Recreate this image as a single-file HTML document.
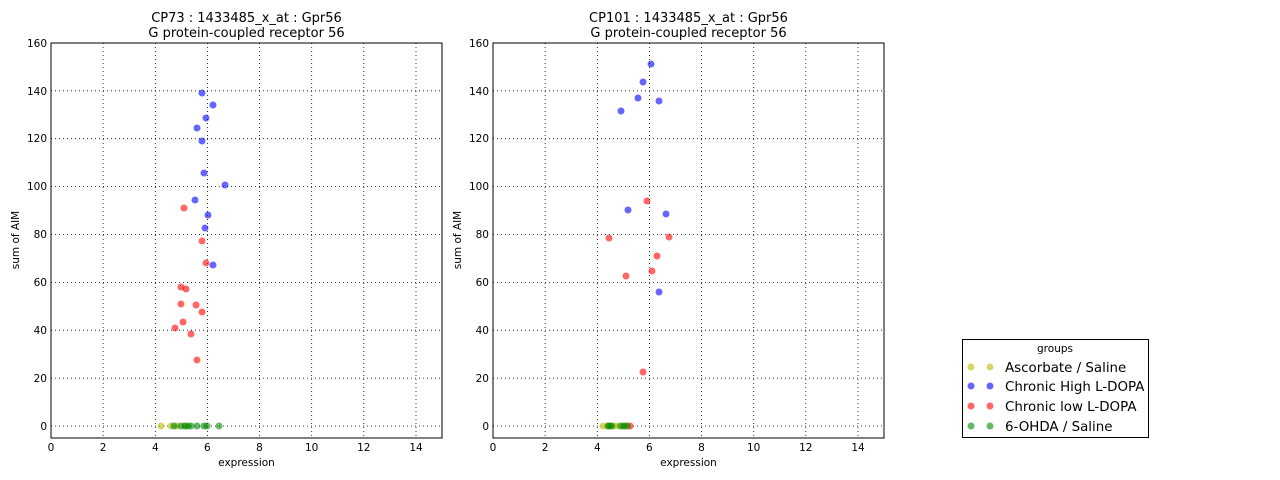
<!DOCTYPE html>
<html><head><meta charset="utf-8"><style>
body{margin:0;background:#fff}
svg{display:block;font-family:"DejaVu Sans","Liberation Sans",sans-serif}
.g{stroke:#000;stroke-width:0.8;stroke-dasharray:1,3}
.t{font-size:10.5px}
.tt{font-size:13px}
</style></head><body>
<svg width="1280" height="480" xmlns="http://www.w3.org/2000/svg">
<defs>
<g id="ax">
<rect x="51" y="43" width="391" height="395" fill="#fff" stroke="none"/>
<g class="g">
<line x1="103.1" y1="43" x2="103.1" y2="438"/><line x1="155.3" y1="43" x2="155.3" y2="438"/><line x1="207.4" y1="43" x2="207.4" y2="438"/><line x1="259.5" y1="43" x2="259.5" y2="438"/><line x1="311.7" y1="43" x2="311.7" y2="438"/><line x1="363.8" y1="43" x2="363.8" y2="438"/><line x1="416" y1="43" x2="416" y2="438"/>
<line x1="51" y1="426" x2="442" y2="426"/><line x1="51" y1="378.1" x2="442" y2="378.1"/><line x1="51" y1="330.2" x2="442" y2="330.2"/><line x1="51" y1="282.4" x2="442" y2="282.4"/><line x1="51" y1="234.5" x2="442" y2="234.5"/><line x1="51" y1="186.6" x2="442" y2="186.6"/><line x1="51" y1="138.7" x2="442" y2="138.7"/><line x1="51" y1="90.8" x2="442" y2="90.8"/>
</g>
<rect x="51" y="43" width="391" height="395" fill="none" stroke="#000" stroke-width="1"/>
<g class="t" text-anchor="middle">
<text x="51" y="451">0</text><text x="103.1" y="451">2</text><text x="155.3" y="451">4</text><text x="207.4" y="451">6</text><text x="259.5" y="451">8</text><text x="311.7" y="451">10</text><text x="363.8" y="451">12</text><text x="416" y="451">14</text>
<text x="246.5" y="466">expression</text>
</g>
<g class="t" text-anchor="end">
<text x="47" y="430">0</text><text x="47" y="382">20</text><text x="47" y="334">40</text><text x="47" y="286">60</text><text x="47" y="238">80</text><text x="47" y="190">100</text><text x="47" y="142">120</text><text x="47" y="95">140</text><text x="47" y="47">160</text>
</g>
<text class="t" transform="translate(19,240) rotate(-90)" text-anchor="middle">sum of AIM</text>
</g>
</defs>
<use href="#ax"/>
<use href="#ax" transform="translate(442,0)"/>
<g class="tt" text-anchor="middle">
<text x="246.5" y="22">CP73 : 1433485_x_at : Gpr56</text>
<text x="246.5" y="37">G protein-coupled receptor 56</text>
<text x="688.5" y="22">CP101 : 1433485_x_at : Gpr56</text>
<text x="688.5" y="37">G protein-coupled receptor 56</text>
</g>
<g fill-opacity="0.6" stroke="none">
<g fill="#00f">
<circle cx="202" cy="93" r="3.5"/><circle cx="213" cy="105" r="3.5"/><circle cx="206" cy="118" r="3.5"/><circle cx="197" cy="128" r="3.5"/><circle cx="202" cy="141" r="3.5"/><circle cx="204" cy="173" r="3.5"/><circle cx="225" cy="185" r="3.5"/><circle cx="195" cy="200" r="3.5"/><circle cx="208" cy="215" r="3.5"/><circle cx="205" cy="228" r="3.5"/><circle cx="213" cy="265" r="3.5"/>
<circle cx="651" cy="64" r="3.5"/><circle cx="643" cy="82" r="3.5"/><circle cx="638" cy="98" r="3.5"/><circle cx="659" cy="101" r="3.5"/><circle cx="621" cy="111" r="3.5"/><circle cx="628" cy="210" r="3.5"/><circle cx="666" cy="214" r="3.5"/><circle cx="659" cy="292" r="3.5"/>
</g>
<g fill="#f00">
<circle cx="184" cy="208" r="3.5"/><circle cx="202" cy="241" r="3.5"/><circle cx="206" cy="263" r="3.5"/><circle cx="181" cy="287" r="3.5"/><circle cx="186" cy="289" r="3.5"/><circle cx="181" cy="304" r="3.5"/><circle cx="196" cy="305" r="3.5"/><circle cx="202" cy="312" r="3.5"/><circle cx="183" cy="322" r="3.5"/><circle cx="175" cy="328" r="3.5"/><circle cx="191" cy="334" r="3.5"/><circle cx="197" cy="360" r="3.5"/>
<circle cx="647" cy="201" r="3.5"/><circle cx="609" cy="238" r="3.5"/><circle cx="669" cy="237" r="3.5"/><circle cx="657" cy="256" r="3.5"/><circle cx="652" cy="271" r="3.5"/><circle cx="626" cy="276" r="3.5"/><circle cx="643" cy="372" r="3.5"/>
<circle cx="630" cy="426" r="3.5"/>
</g>
<g fill="#bb0">
<circle cx="161" cy="426" r="3.5"/><circle cx="171" cy="426" r="3.5"/><circle cx="177" cy="426" r="3.5"/><circle cx="185" cy="426" r="3.5"/>
<circle cx="603" cy="426" r="3.5"/><circle cx="608" cy="426" r="3.5"/><circle cx="615" cy="426" r="3.5"/><circle cx="619" cy="426" r="3.5"/><circle cx="625" cy="426" r="3.5"/>
</g>
<g fill="#080">
<circle cx="174" cy="426" r="3.5"/><circle cx="181" cy="426" r="3.5"/><circle cx="185" cy="426" r="3.5"/><circle cx="188" cy="426" r="3.5"/><circle cx="191" cy="426" r="3.5"/><circle cx="197" cy="426" r="3.5"/><circle cx="204" cy="426" r="3.5"/><circle cx="207" cy="426" r="3.5"/><circle cx="219" cy="426" r="3.5"/>
<circle cx="608" cy="426" r="3.5"/><circle cx="610" cy="426" r="3.5"/><circle cx="612" cy="426" r="3.5"/><circle cx="621" cy="426" r="3.5"/><circle cx="624" cy="426" r="3.5"/><circle cx="627" cy="426" r="3.5"/>
</g>
</g>
<rect x="962.5" y="339.5" width="186" height="98" fill="#fff" stroke="#000"/>
<text x="1055" y="352" class="t" text-anchor="middle">groups</text>
<g fill-opacity="0.6">
<circle cx="971" cy="367" r="3.5" fill="#bb0"/><circle cx="990" cy="367" r="3.5" fill="#bb0"/>
<circle cx="971" cy="386" r="3.5" fill="#00f"/><circle cx="990" cy="386" r="3.5" fill="#00f"/>
<circle cx="971" cy="406" r="3.5" fill="#f00"/><circle cx="990" cy="406" r="3.5" fill="#f00"/>
<circle cx="971" cy="426" r="3.5" fill="#080"/><circle cx="990" cy="426" r="3.5" fill="#080"/>
</g>
<g font-size="13.4">
<text x="1005" y="372">Ascorbate / Saline</text>
<text x="1005" y="391">Chronic High L-DOPA</text>
<text x="1005" y="411">Chronic low L-DOPA</text>
<text x="1005" y="431">6-OHDA / Saline</text>
</g>
</svg>
</body></html>
